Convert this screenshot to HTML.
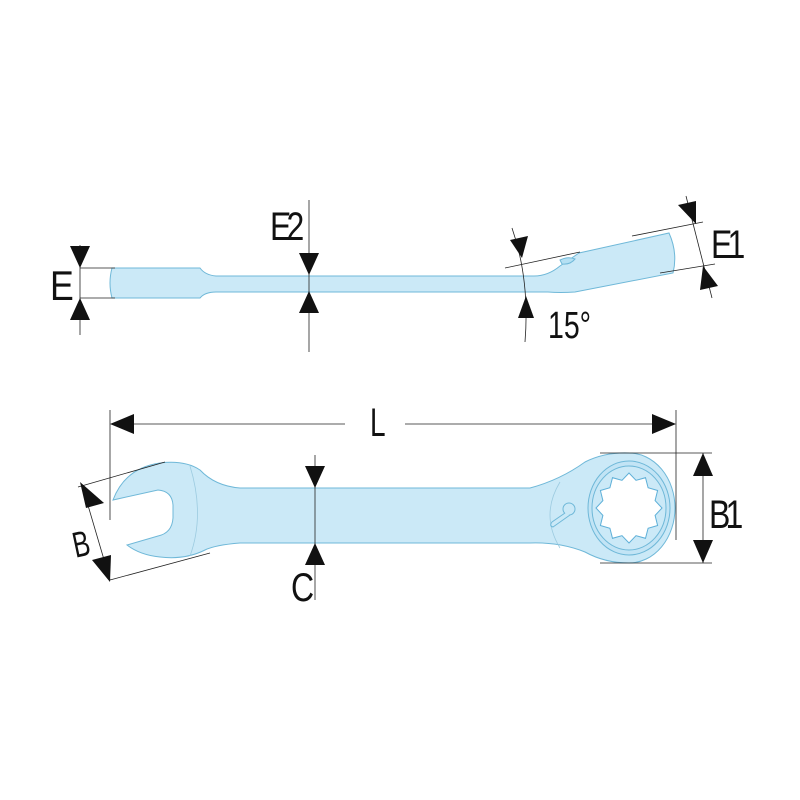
<!DOCTYPE html>
<html><head><meta charset="utf-8"><style>html,body{margin:0;padding:0;background:#fff}svg{display:block}text{font-family:"Liberation Sans",sans-serif;fill:#111}</style></head><body>
<svg width="800" height="800" viewBox="0 0 800 800" xmlns="http://www.w3.org/2000/svg">
<!-- TOP VIEW -->
<path d="M112,268 L200,268 Q205,275 216,276 L534,276 Q548,276 560,266 L579,253 L669,233 Q678,253 673,273 L575,292 Q560,293 548,292 L216,292 Q205,292 200,298 L112,298 Q108,283 112,268 Z" fill="#cbe9f7" stroke="#6fb8d8" stroke-width="1"/>
<path d="M560,260 Q568,256 575,259 Q570,265 562,264 Z" fill="#b5e0f3" stroke="#6fb8d8" stroke-width="1"/>
<g stroke="#222" stroke-width="0.8" fill="none">
<line x1="80" y1="245" x2="80" y2="335"/>
<line x1="80" y1="268" x2="115" y2="268"/><line x1="80" y1="298" x2="115" y2="298"/>
<line x1="309" y1="200" x2="309" y2="352"/>
<path d="M512,228 Q530,280 525,342"/>
<line x1="505" y1="268" x2="580" y2="252"/>
<line x1="686" y1="196" x2="712" y2="298"/>
<line x1="632" y1="236" x2="703" y2="222"/>
<line x1="660" y1="273" x2="715" y2="264"/>
</g>
<g fill="#111">
<path d="M70,246 L90,246 L80,268Z"/><path d="M70,320 L90,320 L80,298Z"/>
<path d="M299,253 L319,253 L309,275Z"/><path d="M299,313 L319,313 L309,291Z"/>
<path d="M510,240 L528,236 L522,258Z"/><path d="M518,318 L534,318 L526,296Z"/>
<path d="M678,205 L696,201 L696,224Z"/><path d="M700,290 L718,286 L703,266Z"/>
</g>
<text x="50" y="300" font-size="42" transform="translate(50,300) scale(0.85,1) translate(-50,-300)">E</text>
<text x="270" y="240" font-size="40" letter-spacing="-6" transform="translate(270,240) scale(0.8,1) translate(-270,-240)">E2</text>
<text x="548" y="338" font-size="38" transform="translate(548,338) scale(0.75,1) translate(-548,-338)">15°</text>
<text x="711" y="258" font-size="40" letter-spacing="-6" transform="translate(711,258) scale(0.8,1) translate(-711,-258)">E1</text>
<!-- BOTTOM VIEW -->
<path d="M113,500 Q125,468 160,463 Q185,460 200,470 Q215,486 240,488 L530,488 Q560,480 585,462 Q605,452 629,453 A46,55 0 0 1 629,563 Q605,563 585,552 Q560,542 530,543 L240,543 Q215,545 205,550 Q185,560 160,557 Q140,555 127,545 L158,536 Q172,533 173,518 L173,505 Q172,491 158,490 Z" fill="#cbe9f7" stroke="#6fb8d8" stroke-width="1"/>
<path d="M190,466 Q205,515 190,556" fill="none" stroke="#9ccbe0" stroke-width="0.8"/>
<path d="M560,482 Q540,515 560,548" fill="none" stroke="#9ccbe0" stroke-width="0.8"/>
<ellipse cx="629" cy="508" rx="41" ry="47" fill="#c2e4f5" stroke="#6fb8d8"/>
<ellipse cx="629" cy="508" rx="37" ry="42" fill="#cbe9f7" stroke="#6fb8d8"/>
<g transform="translate(629,508) scale(1,1.06) translate(-632,-508)">
<polygon points="665,508 658.1,515 660.6,524.5 651.1,527.1 648.5,536.6 639,534.1 632,541 625,534.1 615.5,536.6 612.9,527.1 603.4,524.5 605.9,515 599,508 605.9,501 603.4,491.5 612.9,488.9 615.5,479.4 625,481.9 632,475 639,481.9 648.5,479.4 651.1,488.9 660.6,491.5 658.1,501" fill="#fff" stroke="#5fb0d8"/>
</g>
<circle cx="569" cy="509" r="6" fill="#cbe9f7" stroke="#6fb8d8"/>
<path d="M565,513 L552,522 Q549,526 553,527 L570,515" fill="#cbe9f7" stroke="#6fb8d8"/>
<g stroke="#222" stroke-width="0.8" fill="none">
<line x1="110" y1="410" x2="110" y2="520"/>
<line x1="676" y1="410" x2="676" y2="540"/>
<line x1="132" y1="424" x2="345" y2="424"/>
<line x1="405" y1="424" x2="655" y2="424"/>
<line x1="315" y1="455" x2="315" y2="600"/>
<line x1="600" y1="453" x2="712" y2="453"/>
<line x1="600" y1="563" x2="712" y2="563"/>
<line x1="703" y1="453" x2="703" y2="563"/>
<line x1="78" y1="487" x2="165" y2="462"/>
<line x1="110" y1="580" x2="210" y2="553"/>
<line x1="82" y1="485" x2="110" y2="580"/>
</g>
<g fill="#111">
<path d="M110,424 L134,414 L134,434Z"/><path d="M676,424 L652,414 L652,434Z"/>
<path d="M305,466 L325,466 L315,488Z"/><path d="M305,565 L325,565 L315,543Z"/>
<path d="M703,453 L693,476 L713,476Z"/><path d="M703,563 L693,540 L713,540Z"/>
<path d="M80,482 L104,503 L86,508Z"/><path d="M110,582 L92,560 L111,555Z"/>
</g>
<text x="370" y="436" font-size="40" transform="translate(370,436) scale(0.7,1) translate(-370,-436)">L</text>
<text x="72" y="556" font-size="36" transform="rotate(-12,82,540) translate(72,556) scale(0.7,1) translate(-72,-556)">B</text>
<text x="291" y="601" font-size="40" transform="translate(291,601) scale(0.8,1) translate(-291,-601)">C</text>
<text x="709" y="528" font-size="40" letter-spacing="-6" transform="translate(709,528) scale(0.8,1) translate(-709,-528)">B1</text>
</svg>
</body></html>
